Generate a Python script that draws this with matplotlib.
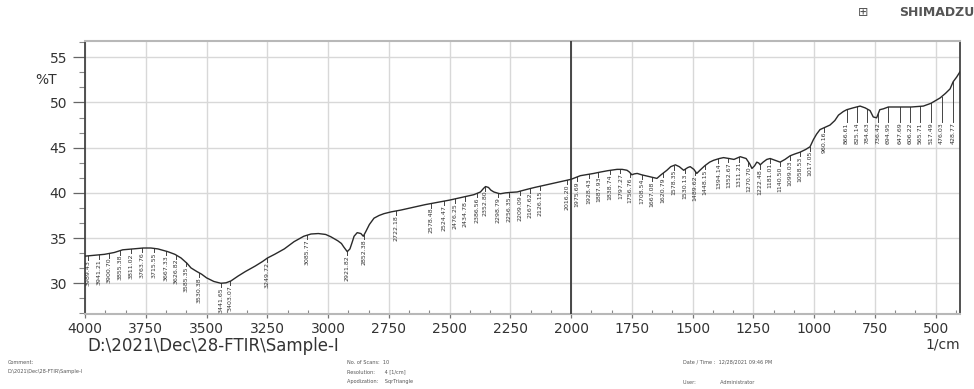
import numpy as np
import matplotlib
matplotlib.use("Agg")
import matplotlib.pyplot as plt
from matplotlib.ticker import FixedLocator, AutoMinorLocator

# ---------------- data ----------------
wavenumber = [4000, 3960, 3920, 3880, 3845, 3800, 3760, 3729, 3700, 3660, 3630, 3605,
              3580, 3564, 3540, 3520, 3500, 3470, 3441, 3420, 3400, 3370, 3340, 3300,
              3270, 3249, 3220, 3180, 3140, 3100, 3070, 3040, 3010, 2989, 2960, 2945,
              2935, 2921, 2910, 2900, 2893, 2880, 2865, 2855, 2845, 2830, 2811, 2790,
              2770, 2740, 2700, 2650, 2600, 2550, 2500, 2450, 2400, 2373, 2360, 2352,
              2340, 2330, 2318, 2300, 2291, 2270, 2250, 2222, 2180, 2150, 2100, 2050,
              2000, 1962, 1930, 1907, 1880, 1850, 1811, 1790, 1770, 1760, 1750, 1740,
              1728, 1710, 1687, 1665, 1647, 1630, 1606, 1590, 1571, 1555, 1537, 1520,
              1510, 1495, 1483, 1470, 1450, 1430, 1414, 1390, 1373, 1350, 1330, 1304,
              1280, 1265, 1256, 1245, 1236, 1228, 1222, 1210, 1195, 1181, 1160, 1140,
              1120, 1099, 1080, 1058, 1035, 1017, 1003, 990, 976, 960, 935, 915, 900,
              880, 866, 840, 811, 790, 770, 757, 743, 730, 715, 695, 674, 640, 600,
              551, 520, 482, 460, 441, 428, 414, 400]
transmittance = [33.0, 33.1, 33.2, 33.4, 33.7, 33.8, 33.9, 33.9, 33.8, 33.5, 33.2, 32.8,
                 32.2, 31.7, 31.3, 31.0, 30.6, 30.2, 30.0, 30.05, 30.25, 30.8, 31.3, 31.9,
                 32.4, 32.8, 33.2, 33.8, 34.6, 35.2, 35.45, 35.5, 35.4, 35.15, 34.7, 34.4,
                 34.0, 33.5, 33.8, 34.6, 35.2, 35.6, 35.5, 35.2, 35.7, 36.5, 37.2, 37.5,
                 37.7, 37.9, 38.1, 38.4, 38.7, 38.95, 39.2, 39.5, 39.8, 40.1, 40.5, 40.7,
                 40.6, 40.3, 40.1, 39.95, 39.9, 40.0, 40.05, 40.1, 40.4, 40.6, 40.9, 41.2,
                 41.5, 41.9, 42.05, 42.15, 42.3, 42.45, 42.6, 42.6, 42.5, 42.3, 42.0, 42.1,
                 42.15, 42.0, 41.85, 41.7, 41.6, 42.0, 42.5, 42.9, 43.1, 42.9, 42.5, 42.8,
                 42.9, 42.6, 42.15, 42.5, 43.0, 43.4, 43.6, 43.8, 43.9, 43.8, 43.7, 44.0,
                 43.8, 43.2, 42.7, 43.0, 43.4, 43.3, 43.1, 43.4, 43.7, 43.8, 43.6, 43.4,
                 43.7, 44.1, 44.3, 44.5, 44.8, 45.1, 45.9, 46.5, 47.0, 47.2, 47.5, 48.0, 48.6,
                 49.0, 49.2, 49.4, 49.6, 49.4, 49.1, 48.4, 48.3, 49.2, 49.3, 49.5, 49.5, 49.5, 49.5,
                 49.6, 49.9, 50.5, 51.0, 51.5, 52.3, 52.8, 53.4]

peak_wavenumbers = [3989.43, 3941.21, 3900.70, 3855.38, 3811.02, 3763.76, 3715.55, 3667.33,
                    3626.82, 3585.35, 3530.38, 3441.65, 3403.07, 3249.72, 3085.77, 2921.82,
                    2852.38, 2722.18, 2578.48, 2524.47, 2476.25, 2434.78, 2386.56, 2352.80,
                    2298.79, 2256.35, 2209.09, 2167.62, 2126.15, 2016.20, 1975.69, 1928.43,
                    1887.93, 1838.74, 1797.27, 1756.76, 1708.54, 1667.08, 1620.79, 1578.35,
                    1530.13, 1489.62, 1448.15, 1394.14, 1352.67, 1311.21, 1270.70, 1222.48,
                    1181.01, 1140.50, 1099.03, 1058.53, 1017.05, 960.16, 866.61, 825.14,
                    784.63, 736.42, 694.95, 647.69, 606.22, 565.71, 517.49, 476.03, 428.77]

x_ticks = [4000, 3750, 3500, 3250, 3000, 2750, 2500, 2250, 2000, 1750, 1500, 1250, 1000, 750, 500]
y_ticks = [30, 35, 40, 45, 50, 55]

# ---------------- figure ----------------
W, H = 974, 389
fig = plt.figure(figsize=(W / 100, H / 100), dpi=100)
fig.patch.set_facecolor("white")

ax_l, ax_r, ax_t, ax_b = 85, 960, 41, 314
ax = fig.add_axes([ax_l / W, 1 - ax_b / H, (ax_r - ax_l) / W, (ax_b - ax_t) / H])

ax.plot(wavenumber, transmittance, color="#2a2a2a", lw=1.0, zorder=4)
ax.set_xlim(4000, 400)
ax.set_ylim(26.6, 56.8)

ax.xaxis.set_major_locator(FixedLocator(x_ticks))
ax.xaxis.set_minor_locator(AutoMinorLocator(3))
ax.yaxis.set_major_locator(FixedLocator(y_ticks))
ax.yaxis.set_minor_locator(AutoMinorLocator(3))

ax.grid(True, which="major", color="#d8d8d8", lw=1.0, zorder=0)
ax.axvline(2000, color="#3a3a3a", lw=1.3, zorder=3)

for s in ("left", "right"):
    ax.spines[s].set_color("#444444")
    ax.spines[s].set_linewidth(1.3)
for s in ("top", "bottom"):
    ax.spines[s].set_color("#b8b8b8")
    ax.spines[s].set_linewidth(1.5)

ax.tick_params(axis="y", which="major", direction="out", length=9, width=0.9,
               color="#666666", labelsize=10, pad=4, labelcolor="#333333")
ax.tick_params(axis="y", which="minor", direction="out", length=4, width=0.8, color="#888888")
ax.tick_params(axis="x", which="major", direction="out", length=3, width=0.9,
               color="#777777", labelsize=10, pad=2.5, labelcolor="#333333")
ax.tick_params(axis="x", which="minor", direction="in", length=3, width=0.8, color="#888888")

# peak labels with leader lines
pk_T = np.interp(peak_wavenumbers, wavenumber[::-1], transmittance[::-1])
for w, tc in zip(peak_wavenumbers, pk_T):
    top = tc - 0.45
    if w < 900:
        top = min(top, 47.8)
    ax.plot([w, w], [tc, top], color="#444444", lw=0.7, zorder=3)
    ax.text(w, top, f"{w:.2f}", rotation=90, fontsize=4.5, va="top", ha="center",
            color="#333333", zorder=3)

# texts around the axes
fig.text(35 / W, 1 - 80 / H, "%T", fontsize=10, va="center", ha="left", color="#333333")
fig.text(87 / W, 1 - 346 / H, r"D:\2021\Dec\28-FTIR\Sample-I", fontsize=12,
         va="center", ha="left", color="#333333")
fig.text(960 / W, 1 - 345 / H, "1/cm", fontsize=10, va="center", ha="right", color="#333333")
fig.text(974 / W, 1 - 13 / H, "SHIMADZU", fontsize=9, fontweight="bold",
         va="center", ha="right", color="#555555")
fig.text(858 / W, 1 - 13 / H, "\u229e", fontsize=9, va="center", ha="left", color="#555555")

fs = 3.6
fig.text(8 / W, 1 - 362 / H, "Comment:", fontsize=fs, va="center", color="#555555")
fig.text(8 / W, 1 - 371 / H, r"D:\2021\Dec\28-FTIR\Sample-I", fontsize=fs, va="center", color="#555555")
fig.text(347 / W, 1 - 362 / H, "No. of Scans:  10", fontsize=fs, va="center", color="#555555")
fig.text(347 / W, 1 - 372 / H, "Resolution:      4 [1/cm]", fontsize=fs, va="center", color="#555555")
fig.text(347 / W, 1 - 382 / H, "Apodization:    SqrTriangle", fontsize=fs, va="center", color="#555555")
fig.text(683 / W, 1 - 362 / H, "Date / Time :  12/28/2021 09:46 PM", fontsize=fs, va="center", color="#555555")
fig.text(683 / W, 1 - 382 / H, "User:               Administrator", fontsize=fs, va="center", color="#555555")

fig.savefig("out.png", dpi=100, facecolor="white")
